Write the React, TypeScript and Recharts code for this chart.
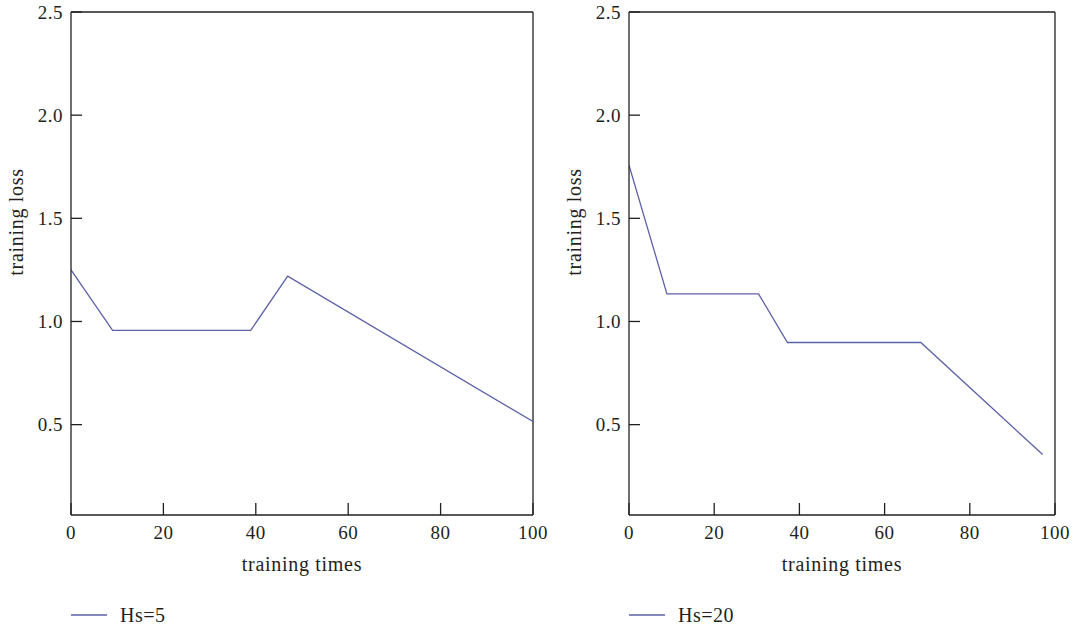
import { LineChart, Line, XAxis, YAxis, ReferenceLine, Label } from 'recharts'

const xTicks = [0, 20, 40, 60, 80, 100]
const yTicks = [0.5, 1.0, 1.5, 2.0, 2.5]

const hs5Times = [0, 9, 38.9, 46.9, 100]
const hs5Loss = [1.25, 0.957, 0.957, 1.22, 0.515]

const hs20Times = [0, 8.9, 30.4, 37.2, 68.5, 97.1]
const hs20Loss = [1.757, 1.134, 1.134, 0.898, 0.898, 0.355]

const seriesNames = ['Hs=5', 'Hs=20']

const ink = '#231f20'
const lineColor = '#5c61a8'
const font = '"Liberation Serif", "Times New Roman", serif'

const build = (xs: number[], ys: number[]) => xs.map((x, i) => ({ x, loss: ys[i] }))

const tickStyle = { fill: ink, fontSize: 19, fontFamily: font, letterSpacing: 0.5 }

function Panel({
  data,
  name,
  width,
  right,
}: {
  data: { x: number; loss: number }[]
  name: string
  width: number
  right: number
}) {
  return (
    <LineChart width={width} height={629} data={data} margin={{ top: 12, right, left: 0, bottom: 34 }}>
      <XAxis
        dataKey="x"
        type="number"
        domain={[0, 100]}
        ticks={xTicks}
        height={80}
        tickSize={-12}
        tickMargin={23}
        stroke={ink}
        strokeWidth={1.3}
        tick={tickStyle}
        allowDataOverflow
      >
        <Label
          content={(p: any) => {
            const vb = p.viewBox
            return (
              <text
                x={vb.x + vb.width / 2}
                y={vb.y + 56}
                textAnchor="middle"
                fill={ink}
                fontSize={20}
                fontFamily={font}
                letterSpacing={0.7}
              >
                training times
              </text>
            )
          }}
        />
      </XAxis>
      <YAxis
        type="number"
        domain={[0.062, 2.5]}
        ticks={yTicks}
        tickFormatter={(v: number) => v.toFixed(1)}
        width={71}
        tickSize={-11}
        tickMargin={19}
        stroke={ink}
        strokeWidth={1.3}
        tick={tickStyle}
        allowDataOverflow
      >
        <Label
          content={(p: any) => {
            const vb = p.viewBox
            const cx = vb.x + 23
            const cy = 222
            return (
              <text
                x={cx}
                y={cy}
                transform={`rotate(-90 ${cx} ${cy})`}
                textAnchor="middle"
                fill={ink}
                fontSize={20}
                fontFamily={font}
                letterSpacing={0.7}
              >
                training loss
              </text>
            )
          }}
        />
      </YAxis>
      <ReferenceLine y={2.5} stroke={ink} strokeWidth={1.3} />
      <ReferenceLine x={100} stroke={ink} strokeWidth={1.3} />
      <Line
        dataKey="loss"
        name={name}
        type="linear"
        stroke={lineColor}
        strokeWidth={1.3}
        dot={false}
        isAnimationActive={false}
      />
    </LineChart>
  )
}

function LegendItem({ left, label }: { left: number; label: string }) {
  return (
    <div style={{ position: 'absolute', left, top: 601, display: 'flex', alignItems: 'center' }}>
      <svg width={36} height={28}>
        <line x1={0} y1={14} x2={36} y2={14} stroke={lineColor} strokeWidth={1.3} />
      </svg>
      <span style={{ marginLeft: 13, fontFamily: font, fontSize: 20, color: ink, letterSpacing: 0.5 }}>{label}</span>
    </div>
  )
}

export default function App() {
  return (
    <div style={{ position: 'absolute', left: 0, top: 0, width: 1079, height: 629, background: '#fff', overflow: 'hidden' }}>
      <div style={{ position: 'absolute', left: 0, top: 0 }}>
        <Panel data={build(hs5Times, hs5Loss)} name={seriesNames[0]} width={560} right={27} />
      </div>
      <div style={{ position: 'absolute', left: 558, top: 0 }}>
        <Panel data={build(hs20Times, hs20Loss)} name={seriesNames[1]} width={521} right={24} />
      </div>
      <LegendItem left={71} label={seriesNames[0]} />
      <LegendItem left={629} label={seriesNames[1]} />
    </div>
  )
}
